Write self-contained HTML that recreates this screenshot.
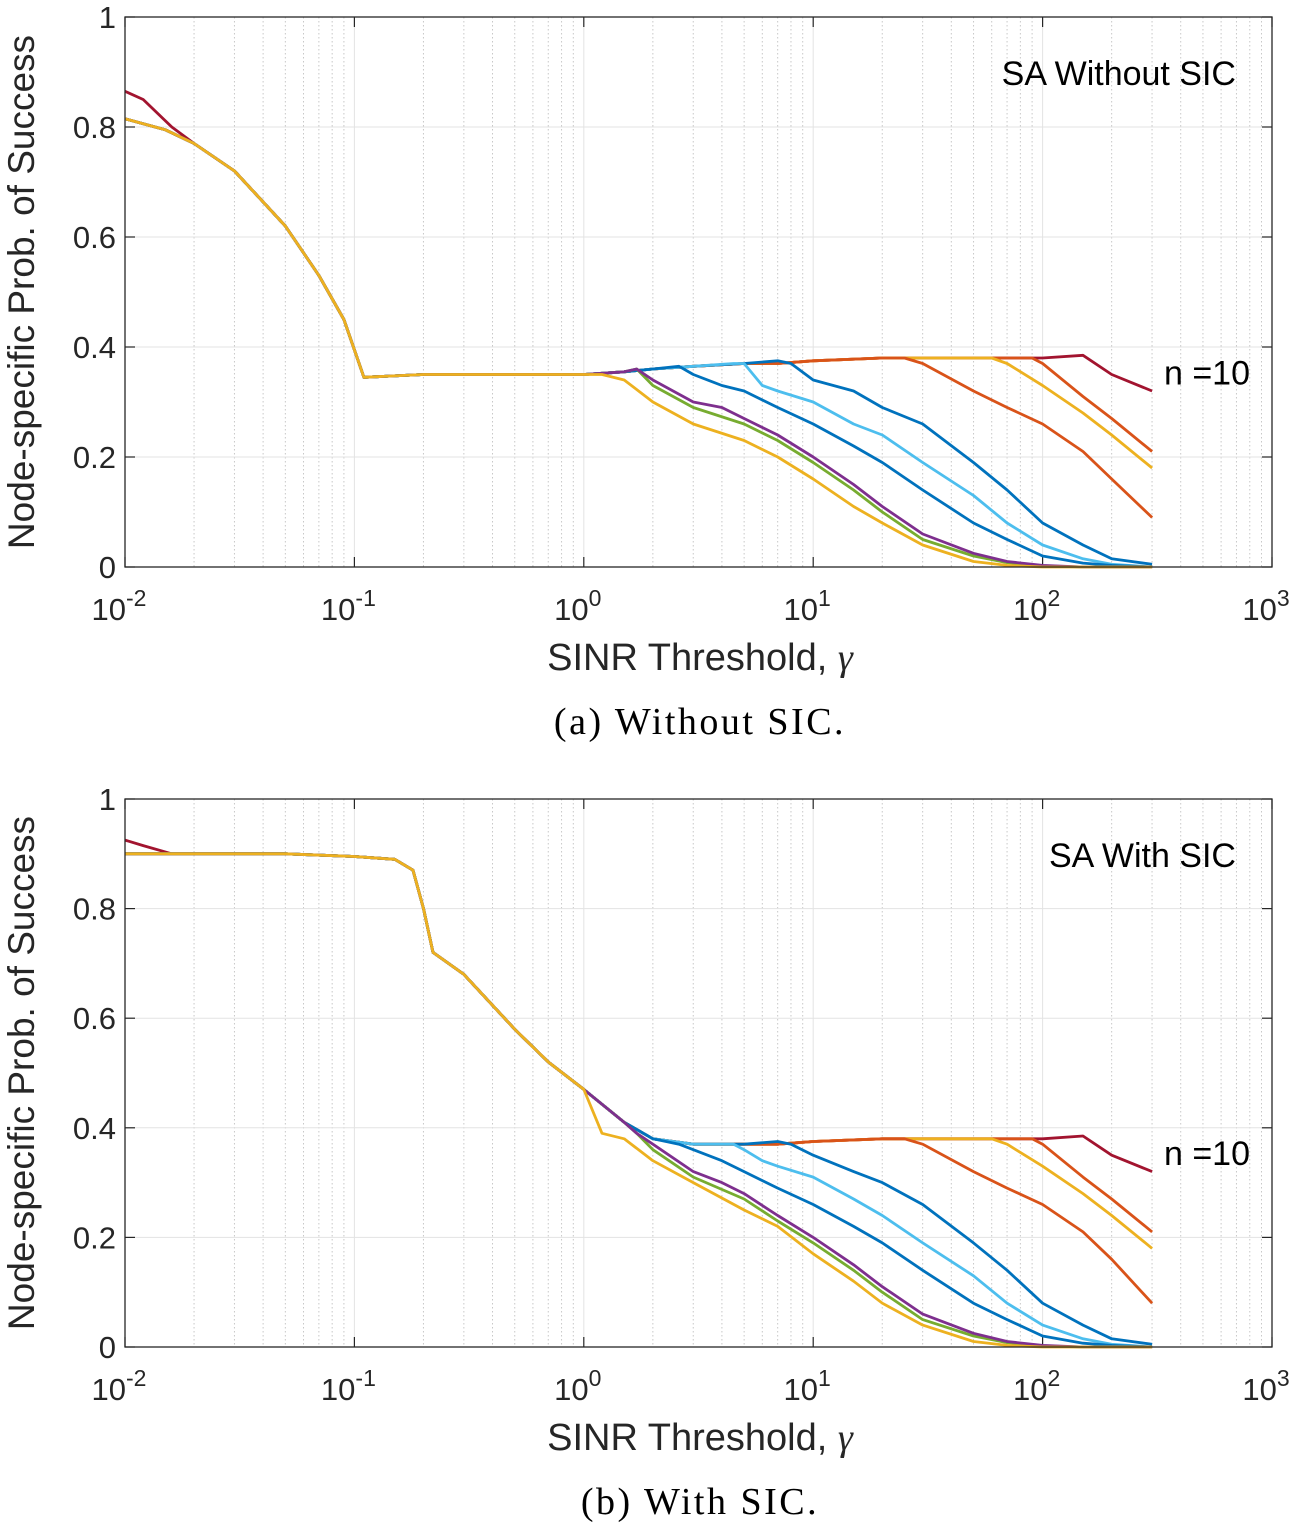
<!DOCTYPE html>
<html><head><meta charset="utf-8"><style>
html,body{margin:0;padding:0;background:#fff;}
svg{display:block;font-family:"Liberation Sans",sans-serif;}
</style></head><body>
<svg id="fig" width="1299" height="1526" viewBox="0 0 1299 1526" xmlns="http://www.w3.org/2000/svg"></svg>
<script>
// ---- data ----
const xTicks = [-2,-1,0,1,2,3];
const yTicks = [0,0.2,0.4,0.6,0.8,1];
const yTickLabels = ["0","0.2","0.4","0.6","0.8","1"];
const seriesColors = ["#EDB120","#7E2F8E","#77AC30","#0072BD","#4DBEEE","#0072BD","#D95319","#EDB120","#D95319","#A2142F"];
// panel (a) baseline
const baseGammaA = [0.01,0.015,0.02,0.03,0.05,0.07,0.09,0.11,0.2,0.5,1,1.5,2,3,5,7,10,20,50,100,200,300];
const baseValA   = [0.815,0.795,0.77,0.72,0.62,0.53,0.45,0.345,0.35,0.35,0.35,0.355,0.36,0.365,0.37,0.37,0.375,0.38,0.38,0.38,0.375,0.37];
// panel (b) baseline
const baseGammaB = [0.01,0.05,0.1,0.15,0.18,0.2,0.22,0.3,0.5,0.7,1,1.5,2,3,5,7,10,20,50,100,200,300];
const baseValB   = [0.90,0.90,0.895,0.89,0.87,0.80,0.72,0.68,0.58,0.52,0.47,0.41,0.38,0.37,0.37,0.37,0.375,0.38,0.38,0.38,0.375,0.37];
// tails (after departure from plateau)
const tailGamma = [
 [1.2,1.5,2,3,5,7,10,15,20,30,50,70,100,300],
 [1.7,2,3,4,5,7,10,15,20,30,50,70,100,150,300],
 [1.7,2,3,5,7,10,15,20,30,50,70,100,150,300],
 [2.6,3,4,5,7,10,15,20,30,50,70,100,150,200,300],
 [4.5,5,6,7,10,15,20,30,50,70,100,150,200,300],
 [7,8,10,15,20,30,50,70,100,150,200,300],
 [25,30,50,70,100,150,200,300],
 [60,70,100,150,200,300],
 [90,100,150,200,300],
 [150,200,300]
];
const tailValA = [
 [0.35,0.34,0.30,0.26,0.23,0.20,0.16,0.11,0.08,0.04,0.01,0.003,0,0],
 [0.36,0.34,0.30,0.29,0.27,0.24,0.20,0.15,0.11,0.06,0.025,0.01,0.003,0,0],
 [0.36,0.33,0.29,0.26,0.23,0.19,0.14,0.10,0.05,0.02,0.008,0.002,0,0],
 [0.365,0.35,0.33,0.32,0.29,0.26,0.22,0.19,0.14,0.08,0.05,0.02,0.007,0.003,0],
 [0.37,0.37,0.33,0.32,0.30,0.26,0.24,0.19,0.13,0.08,0.04,0.015,0.005,0],
 [0.375,0.37,0.34,0.32,0.29,0.26,0.19,0.14,0.08,0.04,0.015,0.005],
 [0.38,0.37,0.32,0.29,0.26,0.21,0.16,0.09],
 [0.38,0.37,0.33,0.28,0.24,0.18],
 [0.38,0.37,0.31,0.27,0.21],
 [0.385,0.35,0.32]
];
const tailValB = [
 [0.39,0.38,0.34,0.30,0.25,0.22,0.17,0.12,0.08,0.04,0.01,0.003,0,0],
 [0.39,0.37,0.32,0.30,0.28,0.24,0.20,0.15,0.11,0.06,0.025,0.01,0.003,0,0],
 [0.39,0.36,0.31,0.27,0.23,0.19,0.14,0.10,0.05,0.02,0.008,0.002,0,0],
 [0.37,0.36,0.34,0.32,0.29,0.26,0.22,0.19,0.14,0.08,0.05,0.02,0.007,0.003,0],
 [0.37,0.36,0.34,0.33,0.31,0.27,0.24,0.19,0.13,0.08,0.04,0.015,0.005,0],
 [0.375,0.37,0.35,0.32,0.30,0.26,0.19,0.14,0.08,0.04,0.015,0.005],
 [0.38,0.37,0.32,0.29,0.26,0.21,0.16,0.08],
 [0.38,0.37,0.33,0.28,0.24,0.18],
 [0.38,0.37,0.31,0.27,0.21],
 [0.385,0.35,0.32]
];
// dark red head deviation at low gamma
const headGamma = [0.01,0.012,0.016];
const headValA = [0.865,0.85,0.80];
const headValB = [0.925,0.915,0.90];

const NS="http://www.w3.org/2000/svg";
const svg=document.getElementById('fig');
function mk(tag,attrs,parent){const e=document.createElementNS(NS,tag);for(const k in attrs)e.setAttribute(k,attrs[k]);(parent||svg).appendChild(e);return e;}

function panel(p){
  const L=125,R=1272,T=p.top,B=p.bottom;
  const xs=g=>L+(Math.log10(g)+2)/5*(R-L);
  const ys=v=>B-v*(B-T);
  const g=mk('g',{});
  
  
  for(let d=-2;d<3;d++)for(let m=2;m<=9;m++){
    const x=xs(m*Math.pow(10,d));
    const l=mk('line',{x1:x,x2:x,y1:T,y2:B,stroke:'#c8c8c8','stroke-width':1,'stroke-dasharray':'1.5,2.5'},g);
    
    
  }
  xTicks.forEach(t=>{const x=xs(Math.pow(10,t));
    const l=mk('line',{x1:x,x2:x,y1:T,y2:B,stroke:'#e3e3e3','stroke-width':1},g);
    
    mk('line',{x1:x,x2:x,y1:B,y2:B-10,stroke:'#262626','stroke-width':1.2},g);
    mk('line',{x1:x,x2:x,y1:T,y2:T+10,stroke:'#262626','stroke-width':1.2},g);
    const tx=mk('text',{x:x-6,y:B+53,'font-size':31,'text-anchor':'middle',fill:'#262626'},g);
    
    tx.innerHTML='10<tspan dy="-14" font-size="23">'+t+'</tspan>';
  });
  yTicks.forEach((t,i)=>{const y=ys(t);
    const l=mk('line',{x1:L,x2:R,y1:y,y2:y,stroke:'#e3e3e3','stroke-width':1},g);
    
    mk('line',{x1:L,x2:L+10,y1:y,y2:y,stroke:'#262626','stroke-width':1.2},g);
    mk('line',{x1:R,x2:R-10,y1:y,y2:y,stroke:'#262626','stroke-width':1.2},g);
    const tx=mk('text',{x:L-9,y:y+11,'font-size':31,'text-anchor':'end',fill:'#262626'},g);
    
    tx.textContent=yTickLabels[i];
  });
  const tails=p.tails;
  for(let i=seriesColors.length-1;i>=0;i--){
    const c=seriesColors[i];
    const tg=tailGamma[i],tv=tails[i],start=tg[0];
    let pts=[];
    if(i===9){headGamma.forEach((h,k)=>pts.push([h,p.head[k]]));}
    const hEnd=i===9?headGamma[headGamma.length-1]:0;
    p.bg.forEach((bg,k)=>{if(bg>hEnd&&bg<start)pts.push([bg,p.bv[k]]);});
    tg.forEach((t,k)=>pts.push([t,tv[k]]));
    const d=pts.map((q,k)=>(k?'L':'M')+xs(q[0]).toFixed(1)+','+ys(q[1]).toFixed(1)).join('');
    const path=mk('path',{d:d,fill:'none',stroke:c,'stroke-width':2.8,'stroke-linejoin':'round'},g);
    
    
  }
  const box=mk('rect',{x:L,y:T,width:R-L,height:B-T,fill:'none',stroke:'#262626','stroke-width':1.3},g);
  
  const xl=mk('text',{x:700,y:B+103,'font-size':38,'text-anchor':'middle',fill:'#262626'},g);
  
  xl.innerHTML='SINR Threshold, <tspan font-family="Liberation Serif" font-style="italic">γ</tspan>';
  const yl=mk('text',{x:0,y:0,'font-size':37,'text-anchor':'middle',fill:'#262626',transform:'translate(34,'+((T+B)/2)+') rotate(-90)'},g);
  
  yl.textContent='Node-specific Prob. of Success';
  const an=mk('text',{x:1236,y:T+68,'font-size':34,'text-anchor':'end',fill:'#000'},g);
  
  an.textContent=p.label;
  const nn=mk('text',{x:1250,y:ys(0.35)+10,'font-size':34,'text-anchor':'end',fill:'#000'},g);
  
  nn.textContent='n =10';
  const cap=mk('text',{x:700,y:B+167,'font-size':38,'text-anchor':'middle',fill:'#000','font-family':'"Liberation Serif",serif','letter-spacing':'2.5'},g);
  
  cap.textContent=p.caption;
}
panel({name:'panel-a',top:17,bottom:567,bg:baseGammaA,bv:baseValA,tails:tailValA,head:headValA,label:'SA Without SIC',caption:'(a) Without SIC.'});
panel({name:'panel-b',top:799,bottom:1347,bg:baseGammaB,bv:baseValB,tails:tailValB,head:headValB,label:'SA With SIC',caption:'(b) With SIC.'});
</script>
</body></html>
